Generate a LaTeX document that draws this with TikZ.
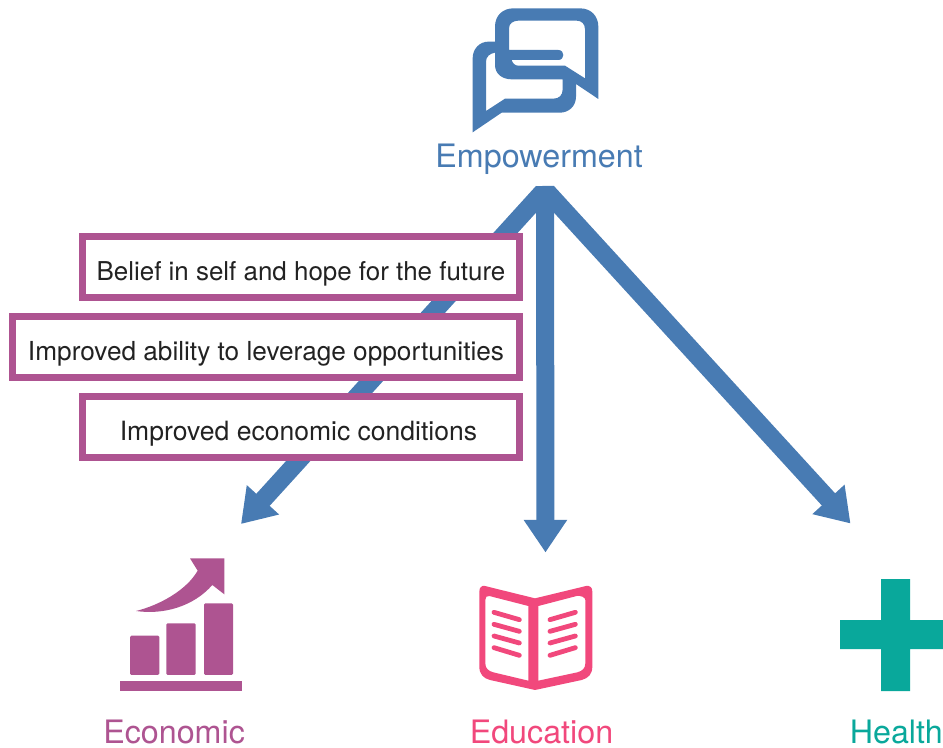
\documentclass[tikz,border=0pt]{standalone}
\usepackage{fontspec}
\setmainfont{TeX Gyre Heros}
\usetikzlibrary{arrows.meta}
\definecolor{blueA}{HTML}{487BB3}
\definecolor{purp}{HTML}{AE5491}
\definecolor{pinkA}{HTML}{F1487C}
\definecolor{tealA}{HTML}{09A89B}
\definecolor{ink}{HTML}{222222}
\tikzset{
  conn/.style={draw=blueA,line width=13.5pt,-{Triangle[length=24.5pt,width=31pt,fill=blueA]}},
  factor/.style={draw=purp,line width=5.25pt,fill=white,inner sep=0pt,text=ink,text height=21pt,text depth=0pt,minimum height=45.75pt},
  biglabel/.style={anchor=base west,inner sep=0pt,font=\fontsize{24.2}{28}\selectfont},
  bookline/.style={draw=pinkA,line width=3.6pt,line cap=round},
}
\begin{document}
\begin{tikzpicture}[x=0.75pt,y=-0.75pt]
\useasboundingbox (0,0) rectangle (943,748);
% connectors
\coordinate (aL) at (542.67,192);
\coordinate (aV) at (545,186);
\coordinate (aR) at (547.3,192.06);
\coordinate (tipE) at (241,524);
\coordinate (tipV) at (545.5,552.5);
\coordinate (tipH) at (850.5,523.5);
\draw[conn] (aL) -- (tipE);
\draw[conn] (aV) -- (tipV);
\draw[conn] (aR) -- (tipH);
% boxes
\node[factor,minimum width=327.75pt,font=\fontsize{19.45}{22}\selectfont] (b1) at (301,267) {Belief in self and hope for the future};
\node[factor,minimum width=380.25pt,font=\fontsize{19.65}{22}\selectfont] (b2) at (266,347) {Improved ability to leverage opportunities};
\node[factor,minimum width=327.75pt,font=\fontsize{19.9}{22}\selectfont] (b3) at (301,427) {Improved economic conditions\kern3.75pt\relax};
% speech icon
\begin{scope}[shift={(450,0)},scale=1/3]
\fill[blueA,even odd rule]
 (68,397) -- (68,175) .. controls (68,145) and (90,125) .. (115,125) -- (135,125) -- (135,80)
 .. controls (135,45) and (160,25) .. (190,25) -- (390,25) .. controls (425,25) and (445,50) .. (445,80)
 -- (445,297) -- (378,252) -- (378,290) .. controls (378,320) and (355,338) .. (330,338) -- (155,338) -- cycle
 (177,150) -- (177,85) .. controls (177,70) and (190,62) .. (205,62) -- (380,62) .. controls (395,62) and (405,72) .. (405,88)
 -- (405,235) -- (345,197) -- (205,197) .. controls (195,197) and (188,190) .. (185,180) -- (325,180)
 .. controls (345,180) and (345,150) .. (325,150) -- cycle
 (135,158) .. controls (120,160) and (108,170) .. (108,185) -- (108,333) -- (165,296) -- (310,296)
 .. controls (328,296) and (338,285) .. (338,268) -- (338,238) -- (185,238) .. controls (155,238) and (135,220) .. (135,195) -- cycle;
\end{scope}
% economic icon
\begin{scope}[shift={(100,540)},scale=1/3]
\fill[purp,rounded corners=1pt] (90,287) rectangle (178,405);
\fill[purp,rounded corners=1pt] (199,250) rectangle (287,405);
\fill[purp,rounded corners=1pt] (312,190) rectangle (399,405);
\fill[purp] (60,424) rectangle (427,452);
\fill[purp] (108,213) .. controls (180,195) and (260,150) .. (293,92) -- (270,55) -- (373,55) -- (373,163) -- (337,135)
 .. controls (280,200) and (190,225) .. (108,213) -- cycle;
\end{scope}
% book icon
\begin{scope}[shift={(460,570)},scale=1/3]
\fill[pinkA,even odd rule]
 (58,65) .. controls (58,52) and (65,46) .. (75,48) -- (225,85) -- (378,48) .. controls (390,46) and (397,52) .. (397,65)
 -- (397,290) .. controls (397,312) and (385,325) .. (365,330) -- (225,360) -- (90,330) .. controls (70,325) and (58,312) .. (58,290) -- cycle
 (88,78) -- (205,108) -- (205,332) -- (100,307) .. controls (85,303) and (76,295) .. (76,280) -- (76,90) .. controls (76,82) and (80,76) .. (88,78) -- cycle
 (235,108) -- (350,78) .. controls (362,76) and (376,82) .. (376,90) -- (376,280) .. controls (376,295) and (367,303) .. (352,307) -- (235,332) -- cycle;
\foreach \yy/\zz in {127/149,163/184,198/219,233/256}{
  \draw[bookline] (102,\yy) -- (178,\zz);
  \draw[bookline] (270,\zz) -- (346,\yy);
}
\end{scope}
% plus icon
\fill[tealA] (881,579) -- (910,579) -- (910,620) -- (943,620) -- (943,649) -- (910,649) -- (910,691) -- (881,691) -- (881,649) -- (840,649) -- (840,620) -- (881,620) -- cycle;
% labels
\node[biglabel,text=blueA] (lEmp) at (435,168) {Empowerment};
\node[biglabel,text=purp] (lEco) at (103,743) {Economic};
\node[biglabel,text=pinkA] (lEdu) at (469.5,743) {Education};
\node[biglabel,text=tealA] (lHea) at (849.5,743) {Health};
\end{tikzpicture}
\end{document}
